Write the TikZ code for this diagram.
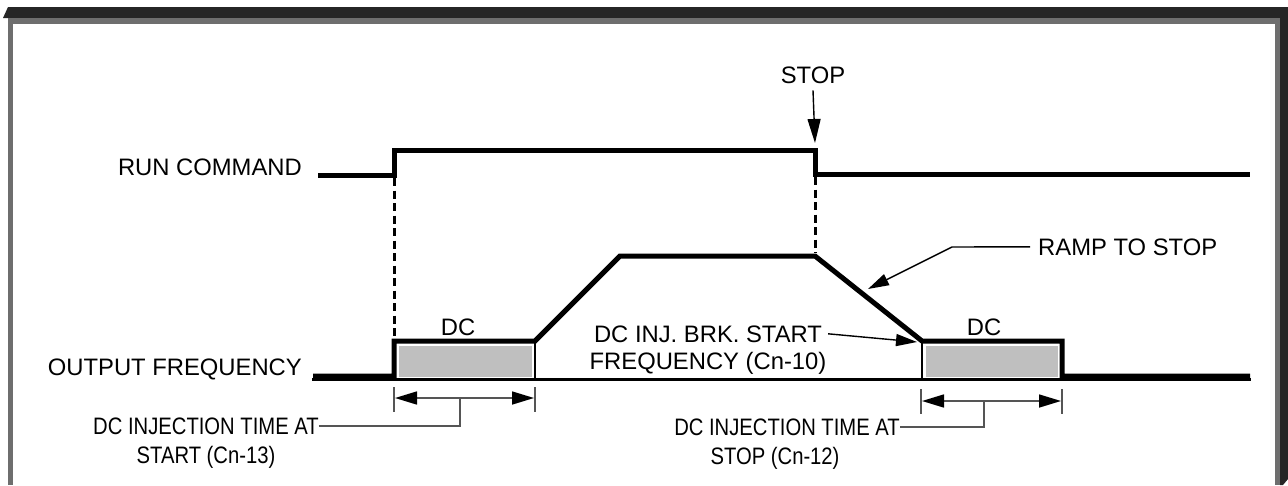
\documentclass[tikz,border=0pt]{standalone}
\usepackage{fontspec}
\setmainfont{Liberation Sans}
\newfontfamily\narrowsans[FakeStretch=0.85]{Liberation Sans}
\usepackage{xcolor}
\usepackage{tikz}
\usetikzlibrary{positioning, arrows.meta, calc}
\definecolor{framedark}{HTML}{262626}
\definecolor{framegray}{HTML}{6E6E6E}
\definecolor{dcgray}{HTML}{BFBFBF}
\definecolor{dimgray}{HTML}{555555}

\begin{document}
\begin{tikzpicture}[x=1pt, y=-1pt,
    lbl/.style={inner sep=0pt, font=\fontsize{23.8}{28}\selectfont},
    timelbl/.style={inner sep=0pt, font=\narrowsans\fontsize{23.8}{28}\selectfont},
    signal/.style={line width=5pt},
    guide/.style={line width=3pt, dash pattern=on 8pt off 4.5pt},
    leader/.style={line width=1.4pt, -{Triangle[length=21pt, width=12pt]}},
    span/.style={draw=dimgray, line width=1.6pt,
      {Triangle[length=22pt, width=13pt, color=black]}-{Triangle[length=22pt, width=13pt, color=black]}},
    tick/.style={draw=dimgray, line width=1.6pt}]
    \useasboundingbox (0,0) rectangle (1288,485);
    % frame
    \fill[framedark] (3,18) -- (8,7) -- (1288,7) -- (1288,479) -- (1283,485) -- (1280,485) -- (1280,18) -- cycle;
    \fill[framegray] (8,18) rectangle (1280,485);
    \fill[white] (13,24) rectangle (1275,486);

    % labels
    \node[lbl, anchor=base east] (runlbl) at (302,175) {RUN COMMAND};
    \node[lbl, anchor=base east] (freqlbl) at (302,375) {OUTPUT FREQUENCY};
    \node[lbl, anchor=base] (stop) at (813,83) {STOP};
    \node[lbl, anchor=base] (dcstart) at (458,335) {DC};
    \node[lbl, anchor=base] (dcstop) at (984,335) {DC};
    \node[lbl, anchor=base] (brk1) at (708,342) {DC INJ. BRK. START};
    \node[lbl, below=10pt of brk1] (brk2) {FREQUENCY (Cn-10)};
    \node[lbl, anchor=base west] (ramp) at (1038,255) {RAMP TO STOP};
    \node[timelbl, anchor=base] (tstart1) at (206,434) {DC INJECTION TIME AT};
    \node[timelbl, below=12pt of tstart1] (tstart2) {START (Cn-13)};
    \node[timelbl, anchor=base east] (tstop1) at (900,435) {DC INJECTION TIME AT};
    \node[timelbl, below=12pt of tstop1, xshift=-12pt] (tstop2) {STOP (Cn-12)};

    \coordinate (stopedge) at (815,143);
    \coordinate (rampslope) at (868,289);
    \coordinate (brkpoint) at (917,342);
    \coordinate (stemstart) at (460,398);
    \coordinate (stemstop) at (984,401);

    % dashed guides
    \draw[guide] (394,178) -- (394,339);
    \draw[guide] (815,177) -- (815,253);

    % DC boxes
    \filldraw[fill=dcgray, draw=white, line width=1pt] (398,345) rectangle (532,377);
    \filldraw[fill=dcgray, draw=white, line width=1pt] (925,345) rectangle (1058,377);
    \draw[line width=2.5pt] (535,341) -- (535,379);
    \draw[line width=2.5pt] (922,341) -- (922,379);
    \draw[line width=2.2pt] (312,379.5) -- (1251,379.5);

    % signals
    \draw[signal] (318,175) -- (394,175) -- (394,150) -- (815,150) -- (815,174) -- (1250,174);
    \draw[signal] (313,376) -- (394,376) -- (394,341) -- (535,341) -- (620,256) -- (815,256)
      -- (922,341) -- (1062,341) -- (1062,376) -- (1250,376);

    % pointers
    \draw[leader, -{Triangle[length=24pt, width=13pt]}] ([yshift=-7pt]stop.south) -- (stopedge);
    \draw[leader] ([xshift=-8pt]ramp.west) -- (952,247) -- (rampslope);
    \draw[leader] ([xshift=6pt]brk1.east) -- (brkpoint);

    % injection times
    \draw[tick] (394,387) -- (394,412);
    \draw[tick] (535,387) -- (535,412);
    \draw[span] (395,398) -- (534,398);
    \draw[tick] (tstart1.east) -| (stemstart);
    \draw[tick] (921,389) -- (921,414);
    \draw[tick] (1062,389) -- (1062,414);
    \draw[span] (922,401) -- (1061,401);
    \draw[tick] (tstop1.east) -| (stemstop);
  \end{tikzpicture}
\end{document}
